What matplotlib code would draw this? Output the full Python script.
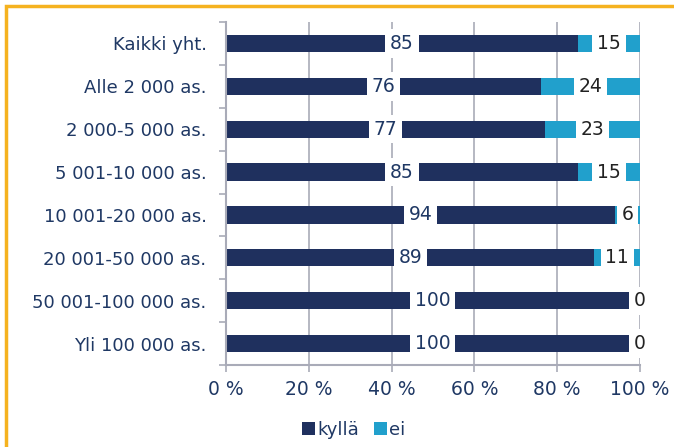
import matplotlib.pyplot as plt
from matplotlib.patches import Rectangle

categories = ["Kaikki yht.", "Alle 2 000 as.", "2 000-5 000 as.", "5 001-10 000 as.",
              "10 001-20 000 as.", "20 001-50 000 as.", "50 001-100 000 as.", "Yli 100 000 as."]
kylla = [85, 76, 77, 85, 94, 89, 100, 100]
ei = [15, 24, 23, 15, 6, 11, 0, 0]
xticks = [0, 20, 40, 60, 80, 100]

navy = "#1F305E"
blue = "#21A0CC"
grid = "#A9ABB8"
txt = "#1F3864"

fig = plt.figure(figsize=(6.74, 4.47), dpi=100)
ax = fig.add_axes([226/674, 1-365/447, 414/674, 343/447])

y = list(range(len(categories)))
b1 = ax.barh(y, kylla, height=0.4, color=navy, label="kyllä", zorder=2)
b2 = ax.barh(y, ei, left=kylla, height=0.4, color=blue, label="ei", zorder=2)

box = dict(boxstyle="square,pad=0.25", fc="white", ec="none")
for i in y:
    ax.text(kylla[i]/2, i, str(kylla[i]), ha="center", va="center", fontsize=13.5, color=txt,
            bbox=box, zorder=3)
    ax.text(kylla[i] + ei[i]/2, i, str(ei[i]), ha="center", va="center", fontsize=13.5,
            color="#222222", bbox=box, zorder=3)

ax.set_xlim(0, 100)
ax.set_ylim(len(categories)-0.5, -0.5)
ax.set_yticks(y)
ax.set_yticklabels(categories, fontsize=13, color=txt)
ax.set_yticks([i + 0.5 for i in range(-1, len(categories))], minor=True)
ax.tick_params(axis="y", which="major", length=0, pad=14)
ax.tick_params(axis="y", which="minor", length=5, color=grid, width=1.2)
ax.set_xticks(xticks)
ax.set_xticklabels([f"{t} %" for t in xticks], fontsize=13.5, color=txt)
ax.tick_params(axis="x", length=5, color=grid, width=1.2, pad=6)
ax.xaxis.grid(True, color=grid, linewidth=1.2, zorder=1)
for s in ["top", "right"]:
    ax.spines[s].set_visible(False)
for s in ["left", "bottom"]:
    ax.spines[s].set_color(grid)
    ax.spines[s].set_linewidth(1.5)

fig.legend(handles=[b1, b2], loc="center", bbox_to_anchor=(354/674, 1-430/447), ncol=2,
           frameon=False, fontsize=13, labelcolor=txt, handlelength=0.7, handleheight=0.7,
           handletextpad=0.15, columnspacing=0.8)

fig.patches.append(Rectangle((6/674, -0.1), 1.2, 1 - 6/447 + 0.1, transform=fig.transFigure,
                             fill=False, ec="#F5B21F", lw=2.5))

fig.savefig("out.png", dpi=100)
